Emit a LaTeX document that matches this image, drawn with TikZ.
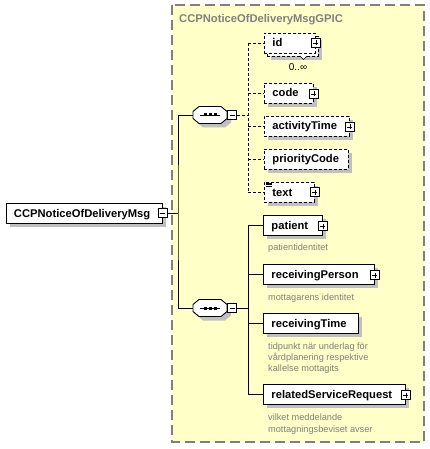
\documentclass[tikz,border=0pt]{standalone}
\usepackage{fontspec}
\setmainfont{Liberation Sans}
\usetikzlibrary{positioning, shadows}

\definecolor{groupfill}{HTML}{FFFFC8}
\definecolor{groupline}{HTML}{808080}
\definecolor{docgray}{HTML}{808080}
\definecolor{shadowgray}{HTML}{C0C0C0}
\hyphenpenalty=10000

\begin{document}
\begin{tikzpicture}[
    x=1pt, y=-1pt,
    % Grey shadow under boxes
    boxshadow/.style={drop shadow={shadow xshift=4pt, shadow yshift=-4pt, fill=shadowgray, opacity=1}},
    % Element boxes (argument = text width)
    elem/.style={draw=black, fill=white, line width=0.9pt, minimum height=20pt, inner xsep=8pt, inner ysep=0pt,
        text width=#1, align=left, anchor=west, text height=8pt, text depth=0pt,
        font=\fontsize{11.2}{13}\selectfont\bfseries},
    optelem/.style={elem=#1, dash pattern=on 3pt off 2pt},
    % Sequence compositor (octagon drawn on top of it)
    compositor/.style={minimum width=34pt, minimum height=17pt, inner sep=0pt},
    % Expand / collapse toggles
    minusbox/.style={draw=black, fill=white, line width=0.8pt, minimum size=9pt, inner sep=0pt,
        path picture={\draw[line width=0.8pt] ([xshift=2pt]path picture bounding box.west) -- ([xshift=-2pt]path picture bounding box.east);}},
    plusbox/.style={draw=black, fill=white, line width=0.8pt, minimum size=9pt, inner sep=0pt,
        path picture={\draw[line width=0.8pt] ([xshift=2pt]path picture bounding box.west) -- ([xshift=-2pt]path picture bounding box.east);
                      \draw[line width=0.8pt] ([yshift=-2pt]path picture bounding box.north) -- ([yshift=2pt]path picture bounding box.south);}},
    % Documentation text
    doc/.style={font=\fontsize{9.2}{11.3}\selectfont, text=docgray, align=left, inner sep=0pt, anchor=north west},
    % Connection styles
    link/.style={line width=0.9pt, draw=black},
    optlink/.style={link, dash pattern=on 3pt off 2pt},
    groupbox/.style={draw=groupline, fill=groupfill, line width=1.2pt, dash pattern=on 10pt off 5pt}
]
    \useasboundingbox (0,0) rectangle (430,449);

    % --- GROUP ---
    \draw[groupbox] (172,5) rectangle (424,442);
    \node[font=\fontsize{11.2}{13}\selectfont\bfseries, text=groupline, anchor=base west, inner sep=0pt] (group-title) at (179,23) {CCPNoticeOfDeliveryMsgGPIC};

    % --- ROOT ---
    \node[elem=140pt, boxshadow] (root) at (5.5,213) {CCPNoticeOfDeliveryMsg};
    \node[minusbox] (root-x) at (root.east) {};
    \coordinate (hub) at (178,213);

    % --- SEQUENCES ---
    \node[compositor] (seq1) at (210,115) {};
    \node[compositor] (seq2) at (210,308) {};
    \foreach \s in {seq1, seq2} {
        \fill[shadowgray] ([shift={(4pt,-4pt)}]\s.center) ++(-17,-3.5) -- ++(6,-5) -- ++(22,0) -- ++(6,5)
            -- ++(0,7) -- ++(-6,5) -- ++(-22,0) -- ++(-6,-5) -- cycle;
        \draw[line width=0.9pt, fill=white] (\s.center) ++(-17,-3.5) -- ++(6,-5) -- ++(22,0) -- ++(6,5)
            -- ++(0,7) -- ++(-6,5) -- ++(-22,0) -- ++(-6,-5) -- cycle;
        \draw[line width=0.9pt] ([xshift=-10pt]\s.center) -- ([xshift=10pt]\s.center);
        \foreach \dx in {-5, 0, 5}
            \fill ([xshift=\dx pt]\s.center) +(-1.5,-1.5) rectangle +(1.5,1.5);
    }
    \node[minusbox, anchor=west] (seq1-x) at (seq1.east) {};
    \node[minusbox, anchor=west] (seq2-x) at (seq2.east) {};
    \coordinate (bus1) at (248,115);
    \coordinate (bus2) at (248,308);

    % --- OPTIONAL CHILDREN ---
    \node[optelem=35pt, boxshadow] (id-back) at (267,46) {};
    \node[optelem=35pt] (id) at (264,43) {id};
    \draw[line width=0.6pt, fill=white] (300,56) -- (303.5,59.5) -- (307,56);
    \node[plusbox] (id-x) at (id.east) {};
    \node[font=\fontsize{10}{11}\selectfont, anchor=base, inner sep=0pt] (id-occ) at (298,70.5) {0..∞};

    \node[optelem=33pt, boxshadow] (code) at (264,93) {code};
    \node[plusbox] (code-x) at ([yshift=-1pt]code.east) {};

    \node[optelem=69pt, boxshadow] (activityTime) at (264,126) {activityTime};
    \node[plusbox] (activityTime-x) at ([yshift=-1pt]activityTime.east) {};

    \node[optelem=68pt, boxshadow] (priorityCode) at (264,159) {priorityCode};

    \node[optelem=34pt, boxshadow] (text) at (264,192) {text};
    \node[plusbox] (text-x) at (text.east) {};
    \foreach \dy in {182.8, 184.4, 186}
        \draw[line width=0.6pt] (266,\dy) -- (271.5,\dy);

    % --- REQUIRED CHILDREN ---
    \node[elem=43pt, boxshadow] (patient) at (263,225) {patient};
    \node[plusbox] (patient-x) at ([yshift=-1pt]patient.east) {};
    \node[doc] (patient-doc) at ([xshift=5pt, yshift=-8.5pt]patient.south west) {patientidentitet};

    \node[elem=95pt, boxshadow] (receivingPerson) at (263,274) {receivingPerson};
    \node[plusbox] (receivingPerson-x) at ([yshift=-1pt]receivingPerson.east) {};
    \node[doc] (receivingPerson-doc) at ([xshift=5pt, yshift=-9pt]receivingPerson.south west) {mottagarens identitet};

    \node[elem=79pt, boxshadow] (receivingTime) at (263,323) {receivingTime};
    \node[doc] (receivingTime-doc) at ([xshift=5pt, yshift=-9pt]receivingTime.south west) {tidpunkt när underlag för\\vårdplanering respektive\\kallelse mottagits};

    \node[elem=126pt, boxshadow] (relatedServiceRequest) at (263,394) {relatedServiceRequest};
    \node[plusbox] (relatedServiceRequest-x) at ([yshift=-1pt]relatedServiceRequest.east) {};
    \node[doc] (relatedServiceRequest-doc) at ([xshift=5pt, yshift=-9.5pt]relatedServiceRequest.south west) {vilket meddelande\\mottagningsbeviset avser};

    % --- CONNECTIONS ---
    \draw[link] (root-x.east) -- (hub);
    \draw[link] (seq1.west) -| (hub) |- (seq2.west);

    \draw[optlink] (seq1-x.east) -- (bus1);
    \draw[optlink] (bus1 |- id.west) -- (bus1 |- text.west);
    \foreach \e in {id, code, activityTime, priorityCode, text}
        \draw[optlink] (bus1 |- \e.west) -- (\e.west);

    \draw[link] (seq2-x.east) -- (bus2);
    \draw[link] (bus2 |- patient.west) -- (bus2 |- relatedServiceRequest.west);
    \foreach \e in {patient, receivingPerson, receivingTime, relatedServiceRequest}
        \draw[link] (bus2 |- \e.west) -- (\e.west);

\end{tikzpicture}
\end{document}
